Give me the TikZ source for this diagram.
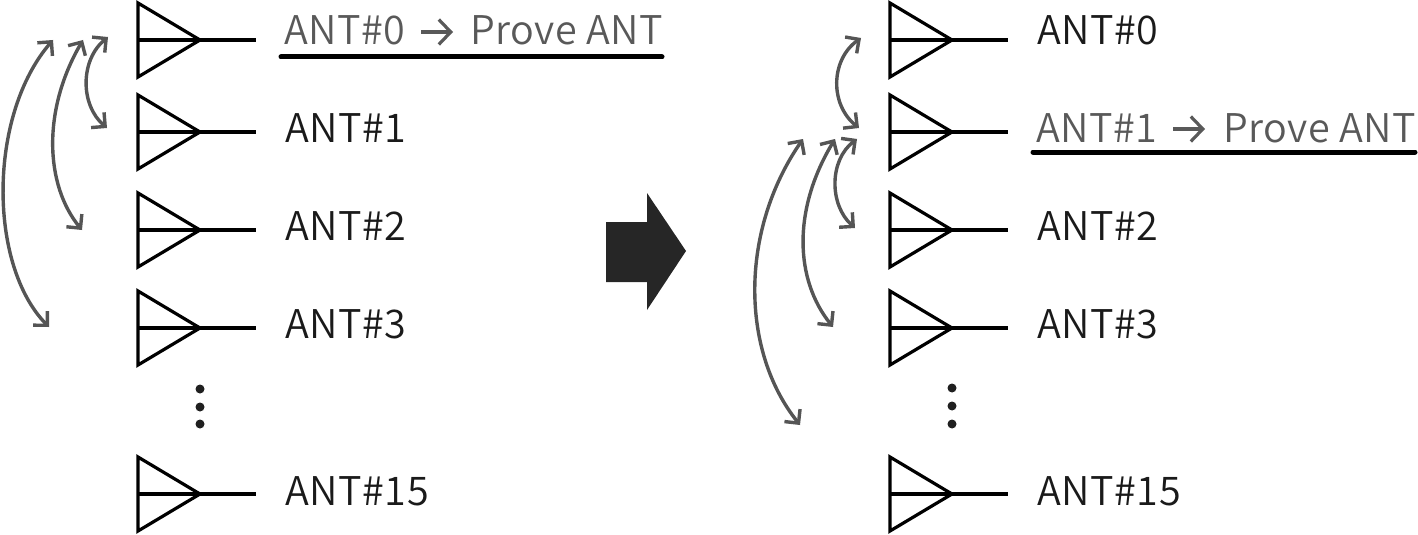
\documentclass[tikz,border=0pt]{standalone}
\usepackage{fontspec}
\setmainfont[LetterSpace=1.5]{Noto Sans CJK JP DemiLight}
\usetikzlibrary{arrows.meta,calc}
\definecolor{arrowgray}{HTML}{555555}
\definecolor{textdark}{HTML}{1A1A1A}
\definecolor{hlgray}{HTML}{595959}
\definecolor{bigarrow}{HTML}{262626}
\tikzset{
  antline/.style={line width=3.2pt, line join=miter, black},
  lbl/.style={anchor=base west, inner sep=0pt, font=\fontsize{39.5}{39.5}\selectfont, text=textdark},
  hl/.style={lbl, text=hlgray},
  swaparrow/.style={draw=arrowgray, line width=3.4pt, {Straight Barb[length=10pt,width=20pt]}-{Straight Barb[length=10pt,width=20pt]}},
  textarrow/.style={draw=hlgray, line width=3.2pt, -{Straight Barb[length=12pt,width=25pt]}},
  uline/.style={line width=5pt, line cap=round, black},
  vdot/.style={fill=black!88, circle, inner sep=0pt, minimum size=9pt},
  antenna/.pic={
    \coordinate (-c) at (0,0);
    \draw[antline] (0,-37) -- (62,0) -- (0,37) -- cycle;
    \draw[antline] (0,0) -- (118,0);
  }
}
\begin{document}
\begin{tikzpicture}[x=1pt,y=-1pt]
\useasboundingbox (0,0) rectangle (1418,535);
% left column
\pic (L0) at (138,40) {antenna};
\pic (L1) at (138,132) {antenna};
\pic (L2) at (138,230) {antenna};
\pic (L3) at (138,328) {antenna};
\pic (L15) at (138,494) {antenna};
\node[vdot] (Ld1) at (200,389) {};
\node[vdot] (Ld2) at (200,407) {};
\node[vdot] (Ld3) at (200,424) {};
\node[hl] (Lt0) at (284,45) {ANT\#0};
\node[hl] (Lp0) at (470,45) {Prove ANT};
\coordinate (Lq0) at (421,32);
\coordinate (Lq1) at (453,32);
\draw[textarrow] (Lq0) -- (Lq1);
\node[lbl] (Lt1) at (285,142) {ANT\#1};
\node[lbl] (Lt2) at (285,240) {ANT\#2};
\node[lbl] (Lt3) at (285,338) {ANT\#3};
\node[lbl] (Lt15) at (285,505) {ANT\#15};
\coordinate (Lu1) at (281,57);
\coordinate (Lu2) at (662,57);
\draw[uline] (Lu1) -- (Lu2);
% left swap arrows
\coordinate (La0) at (108,37);  \coordinate (La1) at (107,128);
\coordinate (Lb0) at (83,40);   \coordinate (Lb2) at (82,230);
\coordinate (Lc0) at (53,40);   \coordinate (Lc3) at (49,327);
\draw[swaparrow] (La0) .. controls (80,60) and (80,105) .. (La1);
\draw[swaparrow] (Lb0) .. controls (42,110) and (45,185) .. (Lb2);
\draw[swaparrow] (Lc0) .. controls (-12,115) and (-12,265) .. (Lc3);
% big arrow
\fill[bigarrow] (606,222) -- (647,222) -- (647,193) -- (686,251) -- (647,310) -- (647,282) -- (606,282) -- cycle;
% right column
\pic (R0) at (890,40) {antenna};
\pic (R1) at (890,132) {antenna};
\pic (R2) at (890,230) {antenna};
\pic (R3) at (890,328) {antenna};
\pic (R15) at (890,494) {antenna};
\node[vdot] (Rd1) at (952,388) {};
\node[vdot] (Rd2) at (952,406) {};
\node[vdot] (Rd3) at (952,424) {};
\node[lbl] (Rt0) at (1037,45) {ANT\#0};
\node[hl] (Rt1) at (1036,142) {ANT\#1};
\node[hl] (Rp1) at (1223,142) {Prove ANT};
\coordinate (Rq0) at (1173,129);
\coordinate (Rq1) at (1205,129);
\draw[textarrow] (Rq0) -- (Rq1);
\node[lbl] (Rt2) at (1037,240) {ANT\#2};
\node[lbl] (Rt3) at (1037,338) {ANT\#3};
\node[lbl] (Rt15) at (1037,505) {ANT\#15};
\coordinate (Ru1) at (1033,152);
\coordinate (Ru2) at (1415,152);
\draw[uline] (Ru1) -- (Ru2);
% right swap arrows
\coordinate (Ra0) at (861,38);  \coordinate (Ra1) at (859,128);
\coordinate (Rb1) at (857,139); \coordinate (Rb2) at (855,228);
\coordinate (Rc1) at (835,139); \coordinate (Rc3) at (833,327);
\coordinate (Rd1x) at (803,139); \coordinate (Rd15) at (800,425);
\draw[swaparrow] (Ra0) .. controls (830,60) and (830,105) .. (Ra1);
\draw[swaparrow] (Rb1) .. controls (829,160) and (829,205) .. (Rb2);
\draw[swaparrow] (Rc1) .. controls (792,210) and (795,280) .. (Rc3);
\draw[swaparrow] (Rd1x) .. controls (740,230) and (740,350) .. (Rd15);
\end{tikzpicture}
\end{document}
